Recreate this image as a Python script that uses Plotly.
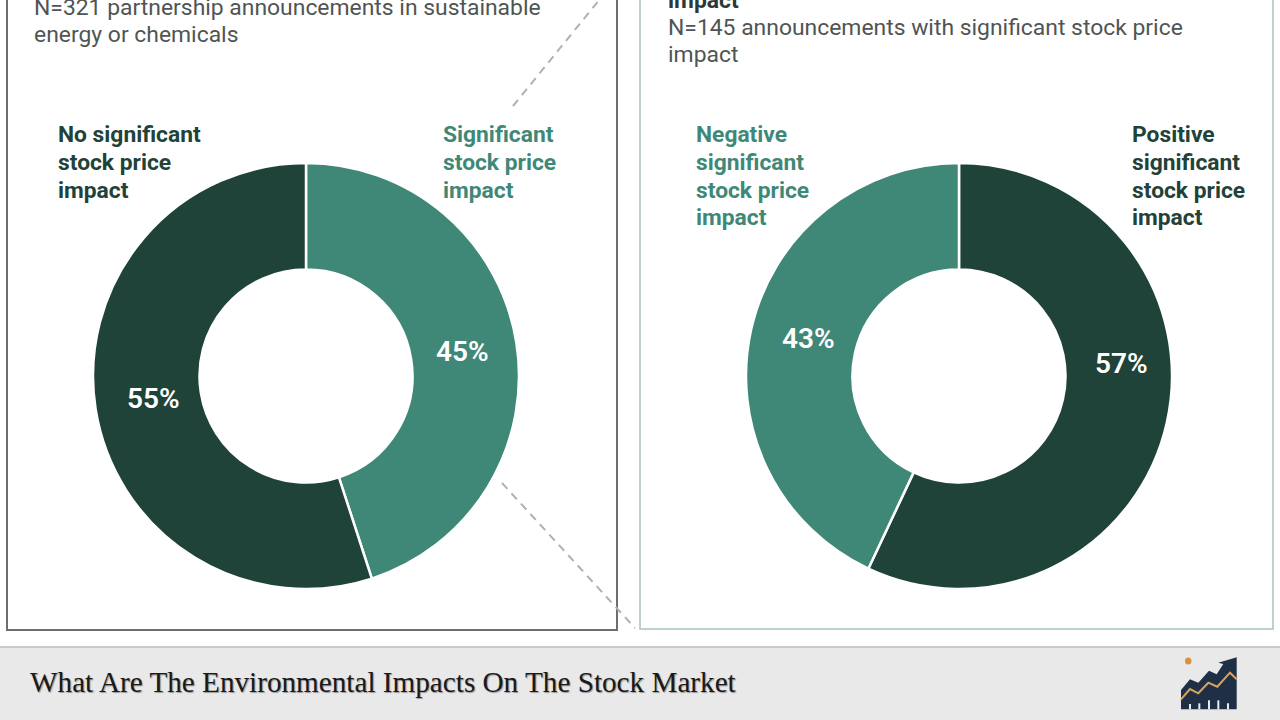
import plotly.graph_objects as go

# Data

left_labels = ["Significant stock price impact", "No significant stock price impact"]
left_values = [45, 55]
right_labels = ["Positive significant stock price impact", "Negative significant stock price impact"]
right_values = [57, 43]

DARK = "#1f4239"
GREEN = "#3f8877"
GREY_TEXT = "#4f5554"

W, H = 1280, 720


def dom(x0, x1, y0, y1):
    return dict(x=[x0 / W, x1 / W], y=[1 - y1 / H, 1 - y0 / H])


def donut(labels, values, colors, domain):
    return go.Pie(
        labels=labels,
        values=values,
        domain=domain,
        hole=0.5,
        sort=False,
        direction="clockwise",
        rotation=0,
        textinfo="none",
        marker=dict(colors=colors, line=dict(color="white", width=2.5)),
        showlegend=False,
    )


fig = go.Figure()
fig.add_trace(donut(left_labels, left_values, [GREEN, DARK], dom(93, 519, 163, 589)))
fig.add_trace(donut(right_labels, right_values, [DARK, GREEN], dom(746, 1172, 163, 589)))

# Boxes, dashed connectors and the footer band

shapes = [
    dict(type="path", path="M7,-5 L7,630 L617,630 L617,-5", line=dict(color="#6e6e6e", width=2)),
    dict(type="path", path="M640,-5 L640,629 L1273,629 L1273,-5", line=dict(color="#a9c3bc", width=1.5)),
    dict(type="line", x0=513, y0=106, x1=600, y1=-1, line=dict(color="#aeb2b1", width=2, dash="8px,6px")),
    dict(type="line", x0=502, y0=483, x1=635, y1=628, line=dict(color="#aeb2b1", width=2, dash="8px,6px")),
    dict(type="rect", x0=0, y0=647, x1=1280, y1=720, fillcolor="#e9e9e9", line=dict(width=0)),
    dict(type="line", x0=0, y0=647, x1=1280, y1=647, line=dict(color="#c9c9c9", width=2)),
]


# Logo at 3x zoom
def logo_pt(zx, zy):
    return f"{1140 + zx / 3:.1f},{640 + zy / 3:.1f}"


logo_body = [(123, 208), (123, 150), (150, 118), (175, 128), (207, 92), (230, 103), (250, 72),
             (235, 68), (290, 52), (290, 208)]
logo_line = [(123, 178), (150, 147), (175, 160), (205, 128), (232, 140), (270, 98), (290, 118)]
shapes.append(dict(type="path", path="M" + " L".join(logo_pt(*p) for p in logo_body) + " Z",
                   fillcolor="#1f2f45", line=dict(width=0)))
shapes.append(dict(type="path", path="M" + " L".join(logo_pt(*p) for p in logo_line),
                   line=dict(color="#d9a45c", width=2)))
for zx, ztop in [(150, 192), (178, 190), (207, 181), (235, 181), (264, 190)]:
    shapes.append(dict(type="rect", x0=1140 + (zx - 3) / 3, x1=1140 + (zx + 3) / 3,
                       y0=640 + ztop / 3, y1=640 + 208 / 3, fillcolor="#e9edf0", line=dict(width=0)))
shapes.append(dict(type="circle", x0=1185, x1=1191.5, y0=657.5, y1=664.5,
                   fillcolor="#d9913f", line=dict(width=0)))

for s in shapes:
    s["xref"] = "x"
    s["yref"] = "y"


def note(text, x, y, size, color, anchor="left", family="Roboto", weight=None, shadow=None):
    return dict(
        text=text, x=x, y=y, xref="x", yref="y", xanchor=anchor, yanchor="middle", align=anchor,
        showarrow=False, font=dict(family=family, size=size, color=color, weight=weight, shadow=shadow),
    )


def block(lines, x, color):
    # Each label line sits on the reference's own 28px rows
    rows = [134, 162, 190, 217]
    return [note(t, x - 2, rows[i], 22.8, color, weight=700) for i, t in enumerate(lines)]


annotations = [
    note("N=321 partnership announcements in sustainable", 32, 7, 22.9, GREY_TEXT),
    note("energy or chemicals", 32, 34, 22.9, GREY_TEXT),
    note("impact", 666, 0, 22.9, "#2b3a36", weight=700),
    note("N=145 announcements with significant stock price", 666, 27, 22.9, GREY_TEXT),
    note("impact", 666, 54, 22.9, GREY_TEXT),
    note("What Are The Environmental Impacts On The Stock Market", 28, 682, 29.2, "#1a1a1a",
         family="Liberation Serif", shadow="1px 1px 1px rgba(0,0,0,0.35)"),
]
annotations += block(["No significant", "stock price", "impact"], 58, DARK)
annotations += block(["Significant", "stock price", "impact"], 443, GREEN)
annotations += block(["Negative", "significant", "stock price", "impact"], 696, GREEN)
annotations += block(["Positive", "significant", "stock price", "impact"], 1132, DARK)

# Percent labels: the 57% sits off the slice's mid-angle in the reference, so they are placed by hand
for value, x, y in [(left_values[0], 462, 351), (left_values[1], 153, 398),
                    (right_values[0], 1121, 363), (right_values[1], 808, 338)]:
    annotations.append(note(f"{value}%", x, y, 28, "white", anchor="center", weight=600))

fig.update_layout(
    width=W,
    height=H,
    margin=dict(l=0, r=0, t=0, b=0),
    paper_bgcolor="white",
    plot_bgcolor="white",
    xaxis=dict(range=[0, W], visible=False, fixedrange=True),
    yaxis=dict(range=[H, 0], visible=False, fixedrange=True),
    shapes=shapes,
    annotations=annotations,
)

fig.write_html(
    "out.html",
    config=dict(displayModeBar=False),
    post_script="document.body.style.margin='0';document.body.style.overflow='hidden';",
)
